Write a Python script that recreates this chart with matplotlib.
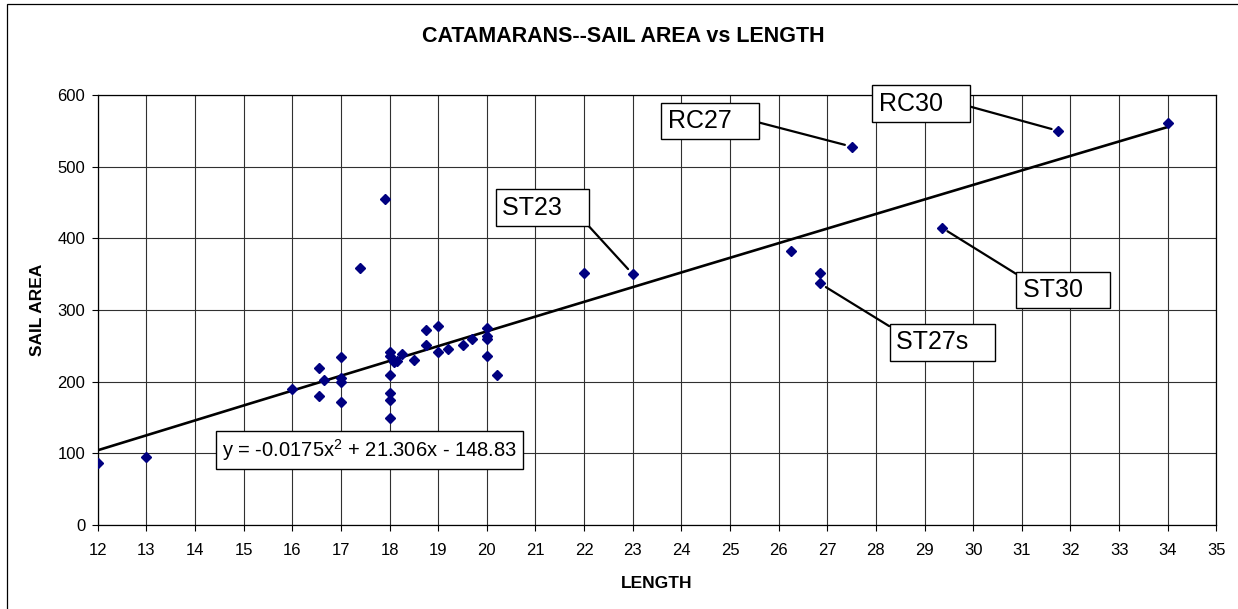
import numpy as np
import matplotlib
matplotlib.use('Agg')
import matplotlib.pyplot as plt
from matplotlib.patches import Rectangle

plt.rcParams['font.family'] = ['Liberation Sans', 'DejaVu Sans']
plt.rcParams['mathtext.fontset'] = 'custom'
plt.rcParams['mathtext.rm'] = 'Liberation Sans'
plt.rcParams['mathtext.it'] = 'Liberation Sans:italic'

# boat length (ft) and sail area (sq ft)
length = [12, 13, 16, 16.55, 16.55, 16.65, 17, 17, 17, 17, 17.4, 17.9,
          18, 18, 18, 18, 18, 18, 18.1, 18.15, 18.25, 18.5, 18.75, 18.75,
          19, 19, 19.2, 19.5, 19.7, 20, 20, 20, 20, 20.2,
          22, 23, 26.25, 26.85, 26.85, 27.5, 29.35, 31.75, 34]
area = [86, 95, 190, 219, 180, 202, 234, 205, 200, 172, 358, 455,
        242, 236, 210, 184, 175, 150, 228, 229, 238, 230, 272, 251,
        277, 241, 246, 251, 259, 275, 264, 260, 236, 210,
        352, 350, 382, 352, 337, 528, 415, 550, 561]

# trendline coefficients as printed on the chart
coef = [-0.0175, 21.306, -148.83]
eq_text = r'y = -0.0175x$^2$ + 21.306x - 148.83'

# labelled boats: name, point, label centre
labels = ['ST23', 'RC27', 'RC30', 'ST30', 'ST27s']
label_pts = [(23, 350), (27.5, 528), (31.75, 550), (29.35, 415), (26.85, 337)]
label_pos = [(21.14, 443), (24.59, 564), (28.93, 588), (31.85, 328), (29.37, 255)]
label_rel = [(1, 0), (1, 0.5), (1, 0.45), (0, 1), (0, 1)]

fig = plt.figure(figsize=(12.38, 6.09), dpi=100)
ax = fig.add_axes([0.0790, 0.1379, 0.9035, 0.7061])

# outer chart border
fig.patches.append(Rectangle((7 / 1238, -0.05), 1.1, 1 - 4 / 609 + 0.05,
                             transform=fig.transFigure, fill=False,
                             edgecolor='black', lw=0.9))

ax.set_xlim(12, 35)
ax.set_ylim(0, 600)
ax.set_xticks(range(12, 36))
ax.set_yticks(range(0, 601, 100))
ax.grid(True, color='#303030', lw=0.8)
ax.set_axisbelow(True)
for s in ax.spines.values():
    s.set_color('black')
    s.set_linewidth(0.9)
ax.tick_params(direction='out', length=4, width=0.8, labelsize=12)
ax.tick_params(axis='x', pad=9)
ax.tick_params(axis='y', pad=5)

xs = np.linspace(12, 34, 200)
ax.plot(xs, np.polyval(coef, xs), color='black', lw=1.9, zorder=3)
ax.plot(length, area, 'D', color='#000080', ms=5, zorder=4, ls='none')

for name, pt, pos, rel in zip(labels, label_pts, label_pos, label_rel):
    ax.annotate(name + '   ', xy=pt, xytext=pos, fontsize=18, ha='center',
                va='center', zorder=5,
                bbox=dict(boxstyle='square,pad=0.25', fc='white', ec='black', lw=1),
                arrowprops=dict(arrowstyle='-', color='black', lw=1.6,
                                relpos=rel, shrinkA=0, shrinkB=5))

ax.text(17.58, 104.6, eq_text, fontsize=14.5, ha='center', va='center', zorder=5,
        bbox=dict(boxstyle='square,pad=0.3', fc='white', ec='black', lw=1))

fig.text(623 / 1238, 1 - 36 / 609, 'CATAMARANS--SAIL AREA vs LENGTH',
         fontsize=15.5, fontweight='bold', ha='center', va='center')
ax.set_xlabel('LENGTH', fontsize=12.5, fontweight='bold', labelpad=13)
ax.set_ylabel('SAIL AREA', fontsize=12.5, fontweight='bold', labelpad=9)

fig.savefig('out.png', dpi=100)
